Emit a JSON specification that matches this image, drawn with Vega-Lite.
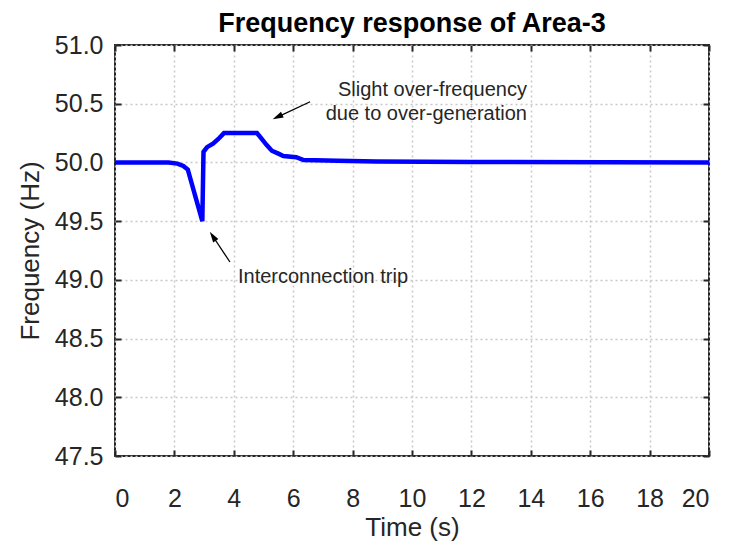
{
  "$schema": "https://vega.github.io/schema/vega-lite/v6.json",
  "width": 594,
  "height": 411,
  "autosize": {"type": "none"},
  "padding": {"left": 115, "top": 45, "right": 20, "bottom": 86},
  "background": "white",
  "title": {
    "text": "Frequency response of Area-3",
    "font": "Liberation Sans",
    "fontSize": 27,
    "fontWeight": "bold",
    "color": "#000000",
    "anchor": "middle",
    "offset": -5
  },
  "config": {
    "view": {"stroke": "#262626", "strokeWidth": 2},
    "axis": {
      "labelFont": "Liberation Sans",
      "titleFont": "Liberation Sans",
      "labelFontSize": 25,
      "titleFontSize": 26,
      "labelColor": "#262626",
      "titleColor": "#262626",
      "titleFontWeight": "normal",
      "domain": false,
      "ticks": true,
      "tickColor": "#262626",
      "tickWidth": 2,
      "tickSize": -6,
      "gridColor": "#c8c8c8",
      "gridDash": [2, 3],
      "gridWidth": 1.5
    }
  },
  "datasets": {
    "response": [
      {"t": 0, "f": 50.0},
      {"t": 1.8, "f": 50.0},
      {"t": 2.1, "f": 49.99},
      {"t": 2.3, "f": 49.97},
      {"t": 2.45, "f": 49.94},
      {"t": 2.94, "f": 49.5},
      {"t": 2.98, "f": 50.09},
      {"t": 3.1, "f": 50.13},
      {"t": 3.3, "f": 50.16},
      {"t": 3.48, "f": 50.2},
      {"t": 3.67, "f": 50.25},
      {"t": 4.78, "f": 50.25},
      {"t": 4.94, "f": 50.2},
      {"t": 5.1, "f": 50.15},
      {"t": 5.28, "f": 50.1},
      {"t": 5.5, "f": 50.075},
      {"t": 5.67, "f": 50.055},
      {"t": 6.1, "f": 50.045},
      {"t": 6.35, "f": 50.02},
      {"t": 7.5, "f": 50.015},
      {"t": 8.8, "f": 50.008},
      {"t": 12, "f": 50.004},
      {"t": 20, "f": 50.0}
    ],
    "notesRight": [
      {"t": 13.87, "f": 50.617, "label": "Slight over-frequency"},
      {"t": 13.87, "f": 50.412, "label": "due to over-generation"}
    ],
    "notesLeft": [
      {"t": 4.14, "f": 49.024, "label": "Interconnection trip"}
    ],
    "arrow1": [{"t": 6.57, "f": 50.517, "t2": 5.5, "f2": 50.39}],
    "arrow2": [{"t": 3.87, "f": 49.152, "t2": 3.31, "f2": 49.365}]
  },
  "layer": [
    {
      "data": {"name": "response"},
      "mark": {"type": "line", "color": "#0000ff", "strokeWidth": 4.5, "clip": true},
      "encoding": {
        "x": {
          "field": "t",
          "type": "quantitative",
          "scale": {"domain": [0, 20], "nice": false, "zero": false},
          "axis": {
            "orient": "bottom",
            "title": "Time (s)",
            "values": [0, 2, 4, 6, 8, 10, 12, 14, 16, 18, 20],
            "labelPadding": 36,
            "titlePadding": 3
          }
        },
        "y": {
          "field": "f",
          "type": "quantitative",
          "scale": {"domain": [47.5, 51], "nice": false, "zero": false},
          "axis": {
            "orient": "left",
            "title": "Frequency (Hz)",
            "values": [47.5, 48, 48.5, 49, 49.5, 50, 50.5, 51],
            "format": ".1f",
            "labelPadding": 18,
            "titlePadding": 11
          }
        }
      }
    },
    {
      "data": {"name": "notesRight"},
      "mark": {"type": "text", "font": "Liberation Sans", "fontSize": 20, "color": "#262626", "baseline": "middle", "align": "right"},
      "encoding": {
        "x": {
          "field": "t",
          "type": "quantitative",
          "scale": {"domain": [0, 20], "nice": false, "zero": false},
          "axis": {"orient": "top", "title": null, "labels": false, "grid": false, "domain": false, "values": [0, 2, 4, 6, 8, 10, 12, 14, 16, 18, 20]}
        },
        "y": {
          "field": "f",
          "type": "quantitative",
          "scale": {"domain": [47.5, 51], "nice": false, "zero": false},
          "axis": {"orient": "right", "title": null, "labels": false, "grid": false, "domain": false, "values": [47.5, 48, 48.5, 49, 49.5, 50, 50.5, 51]}
        },
        "text": {"field": "label"}
      }
    },
    {
      "data": {"name": "notesLeft"},
      "mark": {"type": "text", "font": "Liberation Sans", "fontSize": 20, "color": "#262626", "baseline": "middle", "align": "left"},
      "encoding": {
        "x": {"field": "t", "type": "quantitative", "axis": null},
        "y": {"field": "f", "type": "quantitative", "axis": null},
        "text": {"field": "label"}
      }
    },
    {
      "data": {"name": "arrow1"},
      "layer": [
        {
          "mark": {"type": "rule", "color": "#000000", "strokeWidth": 1.3},
          "encoding": {
            "x": {"field": "t", "type": "quantitative", "axis": null},
            "y": {"field": "f", "type": "quantitative", "axis": null},
            "x2": {"field": "t2"},
            "y2": {"field": "f2"}
          }
        },
        {
          "mark": {"type": "point", "shape": "M0,-1L0.5,0.7L-0.5,0.7Z", "filled": true, "color": "#000000", "opacity": 1, "size": 160, "angle": 244.5},
          "encoding": {
            "x": {"field": "t2", "type": "quantitative", "axis": null},
            "y": {"field": "f2", "type": "quantitative", "axis": null}
          }
        }
      ]
    },
    {
      "data": {"name": "arrow2"},
      "layer": [
        {
          "mark": {"type": "rule", "color": "#000000", "strokeWidth": 1.3},
          "encoding": {
            "x": {"field": "t", "type": "quantitative", "axis": null},
            "y": {"field": "f", "type": "quantitative", "axis": null},
            "x2": {"field": "t2"},
            "y2": {"field": "f2"}
          }
        },
        {
          "mark": {"type": "point", "shape": "M0,-1L0.5,0.7L-0.5,0.7Z", "filled": true, "color": "#000000", "opacity": 1, "size": 160, "angle": 326.3},
          "encoding": {
            "x": {"field": "t2", "type": "quantitative", "axis": null},
            "y": {"field": "f2", "type": "quantitative", "axis": null}
          }
        }
      ]
    }
  ],
  "resolve": {"axis": {"x": "independent", "y": "independent"}}
}
